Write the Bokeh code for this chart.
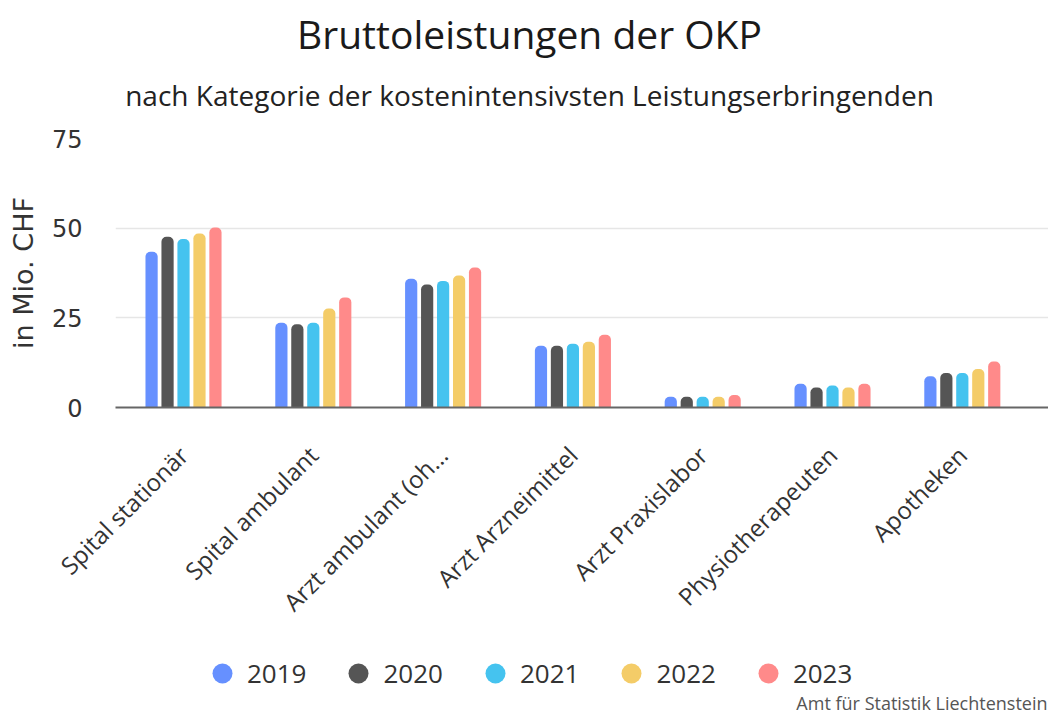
import math
from bokeh.plotting import figure
from bokeh.layouts import column
from bokeh.models import Range1d, Legend, LegendItem, FixedTicker, ColumnDataSource, Label
from bokeh.transform import dodge
from bokeh.embed import file_html
from bokeh.resources import INLINE

categories = ["Spital stationär", "Spital ambulant", "Arzt ambulant (oh...",
              "Arzt Arzneimittel", "Arzt Praxislabor", "Physiotherapeuten", "Apotheken"]
years = ["2019", "2020", "2021", "2022", "2023"]
v2019 = [43.4, 23.6, 35.9, 17.2, 3.0, 6.6, 8.7]
v2020 = [47.6, 23.2, 34.3, 17.2, 3.0, 5.6, 9.6]
v2021 = [47.0, 23.6, 35.3, 17.8, 3.0, 6.1, 9.6]
v2022 = [48.5, 27.6, 36.8, 18.3, 3.0, 5.6, 10.7]
v2023 = [50.2, 30.7, 39.0, 20.3, 3.5, 6.6, 12.8]
series = [v2019, v2020, v2021, v2022, v2023]
colors = ["#6690ff", "#555555", "#45c3ef", "#f4cc68", "#ff8a8a"]
y_ticks = [0, 25, 50, 75]
title_text = "Bruttoleistungen der OKP"
subtitle_text = "nach Kategorie der kostenintensivsten Leistungserbringenden"
source_text = "Amt für Statistik Liechtenstein"
y_label = "in Mio. CHF"

FONT = "Open Sans"
W = 1048
LEFT = 115  # frames of all stacked figures are aligned to this left edge


def bare(h):
    f = figure(width=W, height=h, output_backend="svg", toolbar_location=None,
               x_axis_type=None, y_axis_type=None, x_range=Range1d(0, 1), y_range=Range1d(0, 1),
               min_border=0, title=None)
    f.outline_line_color = None
    f.grid.grid_line_color = None
    f.background_fill_color = "white"
    f.border_fill_color = "white"
    return f


# ---- header with title and subtitle
head = bare(124)
head.add_layout(Label(x=529 - LEFT, y=91, x_units="screen", y_units="screen", text=title_text,
                      text_align="center", text_baseline="middle", text_font=FONT,
                      text_font_size="39px", text_color="#1a1a1a"))
head.add_layout(Label(x=529 - LEFT, y=30, x_units="screen", y_units="screen", text=subtitle_text,
                      text_align="center", text_baseline="middle", text_font=FONT,
                      text_font_size="28px", text_color="#222222"))

# ---- chart
idx = list(range(len(categories)))
data = {"x": idx}
for y, vals in zip(years, series):
    data["y" + y] = vals
source = ColumnDataSource(data)

p = figure(width=W, height=520, output_backend="svg", toolbar_location=None,
           x_range=Range1d(-0.524, 6.664), y_range=Range1d(0, 75),
           title=None, min_border_left=LEFT, min_border_right=0,
           min_border_top=14, min_border_bottom=237)
p.outline_line_color = None
p.background_fill_color = "white"
p.border_fill_color = "white"

pitch = 0.123
bw = 0.094
for i, (y, c) in enumerate(zip(years, colors)):
    off = (i - 2) * pitch
    p.vbar(x=dodge("x", off), top="y" + y, width=bw, source=source,
           fill_color=c, line_color=None, border_radius=(5, 5, 0, 0))

p.xaxis.ticker = FixedTicker(ticks=idx)
p.xaxis.major_label_overrides = {i: c for i, c in enumerate(categories)}
p.xaxis.major_label_orientation = math.pi / 4
p.xaxis.major_label_text_font = FONT
p.xaxis.major_label_text_font_size = "24px"
p.xaxis.major_label_text_color = "#333333"
p.xaxis.major_tick_line_color = None
p.xaxis.minor_tick_line_color = None
p.xaxis.axis_line_color = "#666666"
p.xaxis.axis_line_width = 2
p.xaxis.major_label_standoff = 37

p.yaxis.ticker = FixedTicker(ticks=y_ticks)
p.yaxis.axis_line_color = None
p.yaxis.major_tick_line_color = None
p.yaxis.minor_tick_line_color = None
p.yaxis.major_label_text_font = "DejaVu Sans"
p.yaxis.major_label_text_font_size = "24px"
p.yaxis.major_label_text_color = "#333333"
p.yaxis.major_label_standoff = 27
p.yaxis.axis_label = y_label
p.yaxis.axis_label_text_font = "DejaVu Sans"
p.yaxis.axis_label_text_font_size = "27px"
p.yaxis.axis_label_text_font_style = "normal"
p.yaxis.axis_label_text_color = "#333333"
p.yaxis.axis_label_standoff = 10

p.xgrid.grid_line_color = None
p.ygrid.grid_line_color = "#e6e6e6"
p.ygrid.grid_line_width = 1.5

# ---- footer with legend and source
foot = bare(70)
items = []
for y, c in zip(years, colors):
    r = foot.scatter(x=[float("nan")], y=[float("nan")], marker="circle",
                     fill_color=c, line_color=None, size=20)
    items.append(LegendItem(label=y, renderers=[r]))
legend = Legend(items=items, orientation="horizontal", location=(197 - LEFT, 16),
                label_text_font=FONT, label_text_font_size="26px",
                label_text_color="#333333", glyph_width=50, glyph_height=50,
                label_standoff=0, spacing=27, border_line_color=None,
                background_fill_alpha=0, margin=0, padding=0)
foot.add_layout(legend, "center")
foot.add_layout(Label(x=1047 - LEFT, y=0, x_units="screen", y_units="screen", text=source_text,
                      text_align="right", text_baseline="bottom", text_font=FONT,
                      text_font_size="18px", text_color="#555555"))

layout = column(head, p, foot, spacing=0)
open("out.html", "w").write(file_html(layout, INLINE))
